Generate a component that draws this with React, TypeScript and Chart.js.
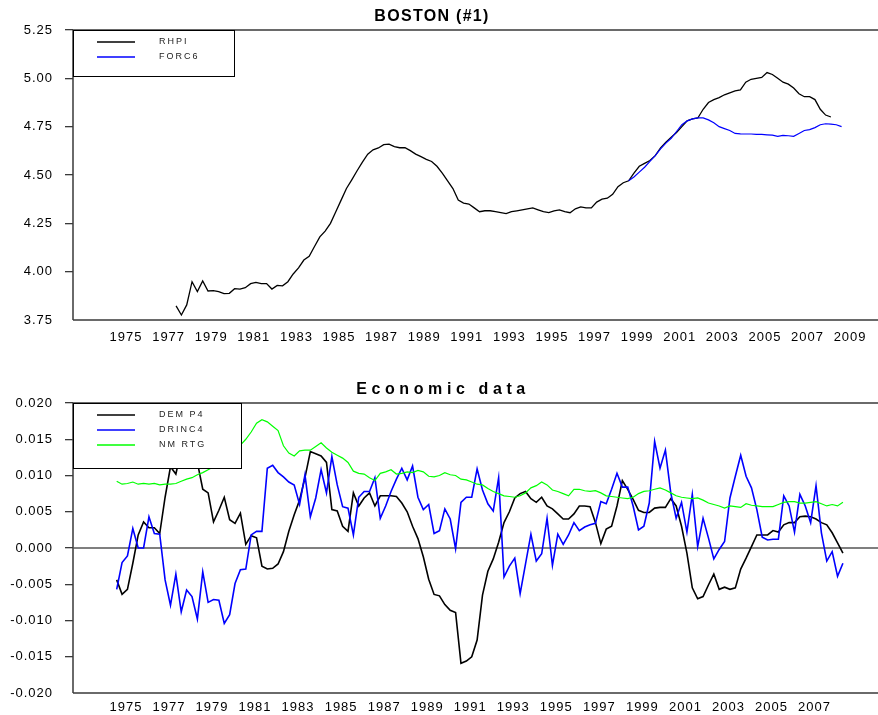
import React, { useEffect, useRef } from "react";
import { Chart, registerables } from "chart.js";

Chart.register(...registerables);

// ---------- DATA ----------
const TOP_YEARS = [1975, 1977, 1979, 1981, 1983, 1985, 1987, 1989, 1991, 1993, 1995, 1997, 1999, 2001, 2003, 2005, 2007, 2009];
const BOTTOM_YEARS = [1975, 1977, 1979, 1981, 1983, 1985, 1987, 1989, 1991, 1993, 1995, 1997, 1999, 2001, 2003, 2005, 2007];
const TOP_Y_TICKS = [3.75, 4.0, 4.25, 4.5, 4.75, 5.0, 5.25];
const BOTTOM_Y_TICKS = [-0.02, -0.015, -0.01, -0.005, 0, 0.005, 0.01, 0.015, 0.02];

const RHPI_START = "1977Q2";
const RHPI = [
  3.823, 3.776, 3.828, 3.948, 3.897, 3.952, 3.900, 3.902, 3.897, 3.886,
  3.888, 3.912, 3.910, 3.917, 3.938, 3.945, 3.938, 3.938, 3.910, 3.929,
  3.927, 3.948, 3.988, 4.020, 4.060, 4.080, 4.130, 4.180, 4.210, 4.250,
  4.310, 4.370, 4.430, 4.475, 4.522, 4.567, 4.608, 4.630, 4.640, 4.657,
  4.660, 4.647, 4.641, 4.641, 4.626, 4.608, 4.595, 4.581,
  4.570, 4.545, 4.510, 4.470, 4.430, 4.370, 4.355, 4.350, 4.330, 4.310,
  4.315, 4.315, 4.310, 4.305, 4.300, 4.310, 4.315, 4.320, 4.325, 4.330,
  4.320, 4.310, 4.305, 4.315, 4.320, 4.310, 4.305, 4.325, 4.335, 4.330,
  4.330, 4.360, 4.375, 4.380, 4.400, 4.440, 4.460, 4.470, 4.510, 4.545,
  4.560, 4.575, 4.600, 4.640, 4.670, 4.695, 4.720, 4.750, 4.780, 4.790,
  4.795, 4.840, 4.875, 4.890, 4.900, 4.915, 4.925, 4.935, 4.940, 4.980,
  4.995, 5.000, 5.005, 5.030, 5.020, 5.000, 4.980, 4.970, 4.950, 4.920,
  4.905, 4.905, 4.890, 4.840, 4.810, 4.800,
];

const FORC6_START = "1998Q3";
const FORC6 = [
  4.470, 4.490, 4.515, 4.540, 4.570, 4.600, 4.635, 4.665, 4.690, 4.725,
  4.760, 4.780, 4.790, 4.795, 4.795, 4.785, 4.770, 4.750, 4.740, 4.730,
  4.715, 4.713, 4.712, 4.712, 4.710, 4.710, 4.708, 4.706, 4.700, 4.705,
  4.703, 4.700, 4.715, 4.730, 4.735, 4.745, 4.760, 4.765, 4.763, 4.760,
  4.750,
];

const ECON_START = "1974Q3";
const DEMP4 = [
  -0.0044, -0.0064, -0.0057, -0.0021, 0.0018, 0.0036, 0.0028, 0.0028, 0.0020, 0.0070,
  0.0112, 0.0102, 0.0135, 0.0145, 0.0140, 0.0118, 0.0081, 0.0076, 0.0036, 0.0052,
  0.0070, 0.0039, 0.0034, 0.0048, 0.0005, 0.0017, 0.0014, -0.0025, -0.0029, -0.0028,
  -0.0022, -0.0005, 0.0023, 0.0046, 0.0066, 0.0097, 0.0133, 0.0130, 0.0127, 0.0118,
  0.0053, 0.0051, 0.0030, 0.0023, 0.0076, 0.0058, 0.0069, 0.0076, 0.0058, 0.0072,
  0.0072, 0.0072, 0.0071, 0.0062, 0.0050, 0.0030, 0.0013, -0.0012, -0.0043, -0.0064,
  -0.0066, -0.0078, -0.0086, -0.0089, -0.0159, -0.0156, -0.0150, -0.0127, -0.0065, -0.0032,
  -0.0015, 0.0008, 0.0035, 0.0050, 0.0069, 0.0075, 0.0078, 0.0068, 0.0063, 0.0070,
  0.0058, 0.0054, 0.0047, 0.0040, 0.0040, 0.0047, 0.0058, 0.0058, 0.0057, 0.0035,
  0.0006, 0.0026, 0.0030, 0.0058, 0.0093, 0.0081, 0.0067, 0.0052, 0.0049, 0.0049,
  0.0055, 0.0056, 0.0056, 0.0068, 0.0058, 0.0030, -0.0007, -0.0055, -0.0070, -0.0067,
  -0.0051, -0.0036, -0.0057, -0.0054, -0.0057, -0.0055, -0.0029, -0.0014, 0.0002, 0.0018,
  0.0018, 0.0018, 0.0024, 0.0022, 0.0032, 0.0035, 0.0035, 0.0043, 0.0044, 0.0043,
  0.0040, 0.0035, 0.0032, 0.0021, 0.0007, -0.0007,
];

const DRINC4 = [
  -0.0057, -0.0020, -0.0011, 0.0027, 0.0000, 0.0000, 0.0043, 0.0020, 0.0019, -0.0044,
  -0.0079, -0.0036, -0.0088, -0.0058, -0.0067, -0.0098, -0.0033, -0.0075, -0.0071, -0.0072,
  -0.0104, -0.0092, -0.0049, -0.0030, -0.0029, 0.0018, 0.0023, 0.0023, 0.0110, 0.0114,
  0.0104, 0.0098, 0.0091, 0.0087, 0.0060, 0.0101, 0.0043, 0.0069, 0.0108, 0.0076,
  0.0126, 0.0087, 0.0057, 0.0055, 0.0018, 0.0070, 0.0078, 0.0078, 0.0097, 0.0041,
  0.0058, 0.0078, 0.0095, 0.0110, 0.0094, 0.0113, 0.0070, 0.0053, 0.0060, 0.0020,
  0.0024, 0.0054, 0.0040, -0.0001, 0.0063, 0.0070, 0.0070, 0.0109, 0.0080, 0.0061,
  0.0051, 0.0097, -0.0040, -0.0025, -0.0014, -0.0063, -0.0022, 0.0019, -0.0018, -0.0008,
  0.0041, -0.0024, 0.0019, 0.0005, 0.0018, 0.0035, 0.0024, 0.0029, 0.0032, 0.0034,
  0.0064, 0.0061, 0.0081, 0.0103, 0.0084, 0.0084, 0.0058, 0.0025, 0.0030, 0.0062,
  0.0147, 0.0110, 0.0135, 0.0076, 0.0041, 0.0063, 0.0022, 0.0074, 0.0002, 0.0041,
  0.0014, -0.0015, -0.0002, 0.0009, 0.0069, 0.0099, 0.0128, 0.0099, 0.0083, 0.0053,
  0.0015, 0.0011, 0.0012, 0.0012, 0.0072, 0.0058, 0.0022, 0.0074, 0.0058, 0.0035,
  0.0086, 0.0021, -0.0018, -0.0005, -0.0039, -0.0021,
];

const NMRTG = [
  0.0092, 0.0088, 0.0089, 0.0091, 0.0088, 0.0089, 0.0088, 0.0089, 0.0087, 0.0088,
  0.0088, 0.0089, 0.0092, 0.0095, 0.0097, 0.0101, 0.0104, 0.0108, 0.0112, 0.0116,
  0.0122, 0.0128, 0.0135, 0.0142, 0.0150, 0.0160, 0.0172, 0.0177, 0.0174, 0.0168,
  0.0162, 0.0141, 0.0131, 0.0127, 0.0134, 0.0135, 0.0135, 0.0140, 0.0145, 0.0138,
  0.0132, 0.0128, 0.0124, 0.0118, 0.0106, 0.0103, 0.0102, 0.0097, 0.0093, 0.0103,
  0.0105, 0.0108, 0.0102, 0.0103, 0.0105, 0.0104, 0.0107, 0.0105, 0.0099, 0.0098,
  0.0100, 0.0104, 0.0101, 0.0100, 0.0095, 0.0094, 0.0091, 0.0088, 0.0087, 0.0082,
  0.0078, 0.0075, 0.0072, 0.0071, 0.0070, 0.0072, 0.0076, 0.0083, 0.0086, 0.0091,
  0.0087, 0.0080, 0.0078, 0.0075, 0.0072, 0.0081, 0.0081, 0.0079, 0.0078, 0.0079,
  0.0076, 0.0072, 0.0071, 0.0070, 0.0069, 0.0068, 0.0070, 0.0075, 0.0078, 0.0079,
  0.0081, 0.0083, 0.0080, 0.0076, 0.0072, 0.0070, 0.0069, 0.0068, 0.0069, 0.0066,
  0.0062, 0.0060, 0.0058, 0.0055, 0.0058, 0.0057, 0.0056, 0.0061, 0.0059, 0.0058,
  0.0057, 0.0057, 0.0057, 0.0060, 0.0063, 0.0064, 0.0064, 0.0062, 0.0062, 0.0063,
  0.0064, 0.0061, 0.0058, 0.0060, 0.0058, 0.0063,
];

// ---------- HELPERS ----------
const FONT = '"Liberation Sans", Arial, Helvetica, sans-serif';

function quarterStart(q: string): number {
  const [y, n] = q.split("Q");
  return Number(y) + (Number(n) - 1) / 4;
}
function toPoints(start: string, values: number[]) {
  const t0 = quarterStart(start);
  return values.map((v, i) => ({ x: t0 + i / 4, y: v }));
}

const framePlugin = {
  id: "frame",
  beforeDraw(chart: any) {
    chart.ctx.letterSpacing = "1px";
  },
  beforeDatasetsDraw(chart: any, _a: any, opts: any) {
    const { ctx, chartArea } = chart;
    const { left, right, top, bottom } = chartArea;
    ctx.save();
    ctx.strokeStyle = "#3a3a3a";
    ctx.lineWidth = 1.5;
    ctx.beginPath();
    ctx.moveTo(left, top);
    ctx.lineTo(right, top);
    ctx.moveTo(left, bottom);
    ctx.lineTo(right, bottom);
    ctx.moveTo(left, top);
    ctx.lineTo(left, bottom);
    ctx.stroke();
    if (opts && opts.zeroLine) {
      const y0 = chart.scales.y.getPixelForValue(0);
      ctx.strokeStyle = "#555";
      ctx.lineWidth = 1.4;
      ctx.beginPath();
      ctx.moveTo(left, y0);
      ctx.lineTo(right, y0);
      ctx.stroke();
    }
    ctx.restore();
  },
  afterDraw(chart: any, _a: any, opts: any) {
    const { ctx } = chart;
    ctx.save();
    ctx.letterSpacing = opts.titleSpacing + "px";
    ctx.font = `bold ${opts.titleSize}px ${FONT}`;
    ctx.fillStyle = "#000";
    ctx.textAlign = "center";
    ctx.textBaseline = "middle";
    ctx.fillText(opts.title, opts.titleX, opts.titleY);
    ctx.restore();
    ctx.letterSpacing = "0px";
  },
};

const boxLegendPlugin = {
  id: "boxLegend",
  afterDatasetsDraw(chart: any, _a: any, opts: any) {
    const { ctx, chartArea } = chart;
    const x0 = chartArea.left;
    const y0 = chartArea.top;
    ctx.save();
    ctx.fillStyle = "#fff";
    ctx.fillRect(x0, y0, opts.width, opts.height);
    ctx.strokeStyle = "#000";
    ctx.lineWidth = 1;
    ctx.strokeRect(x0 + 0.5, y0 + 0.5, opts.width, opts.height);
    ctx.font = `9px ${FONT}`;
    ctx.letterSpacing = "2px";
    ctx.textBaseline = "middle";
    ctx.textAlign = "left";
    opts.order.forEach((label: string, k: number) => {
      const ds = chart.data.datasets.find((d: any) => d.label === label);
      const y = y0 + 12 + k * 15;
      ctx.strokeStyle = ds.borderColor;
      ctx.lineWidth = 1.3;
      ctx.beginPath();
      ctx.moveTo(x0 + 24, y);
      ctx.lineTo(x0 + 62, y);
      ctx.stroke();
      ctx.fillStyle = "#222";
      ctx.fillText(opts.display[k], x0 + 86, y);
    });
    ctx.restore();
  },
};

function makeOptions(cfg: any) {
  const tickFont = { family: FONT, size: 13 };
  return {
    responsive: false,
    animation: false,
    devicePixelRatio: 1,
    layout: { padding: { top: cfg.padTop, left: 0, right: 0, bottom: 0 } },
    plugins: {
      legend: { display: false },
      title: { display: false },
      tooltip: { enabled: false },
      frame: cfg.frame,
      boxLegend: cfg.legend,
    },
    scales: {
      x: {
        type: "linear",
        min: cfg.xMin,
        max: cfg.xMax,
        afterBuildTicks: (s: any) => {
          s.ticks = cfg.years.map((y: number) => ({ value: y + cfg.labelOffset }));
        },
        afterFit: (s: any) => {
          s.height = cfg.xHeight;
        },
        ticks: {
          autoSkip: false,
          maxRotation: 0,
          minRotation: 0,
          padding: cfg.xPad,
          color: "#000",
          font: tickFont,
          callback: (_v: any, i: number) => String(cfg.years[i]),
        },
        grid: { display: false, drawTicks: false },
        border: { display: false },
      },
      y: {
        min: cfg.yTicks[0],
        max: cfg.yTicks[cfg.yTicks.length - 1],
        afterBuildTicks: (s: any) => {
          s.ticks = cfg.yTicks.map((v: number) => ({ value: v }));
        },
        afterFit: (s: any) => {
          s.width = 73;
        },
        ticks: {
          padding: 12,
          color: "#000",
          font: tickFont,
          callback: (_v: any, i: number) => cfg.yTicks[i].toFixed(cfg.decimals),
        },
        grid: {
          drawOnChartArea: false,
          drawTicks: true,
          tickLength: 8,
          lineWidth: 1.3,
          color: (c: any) =>
            c.tick && c.tick.value === cfg.yTicks[0] ? "rgba(0,0,0,0)" : "#3a3a3a",
        },
        border: { display: false },
      },
    },
  };
}

export default function App() {
  const topRef = useRef<HTMLCanvasElement | null>(null);
  const botRef = useRef<HTMLCanvasElement | null>(null);

  useEffect(() => {
    const top = new Chart(topRef.current as HTMLCanvasElement, {
      type: "line",
      data: {
        datasets: [
          {
            label: "FORC6",
            data: toPoints(FORC6_START, FORC6),
            borderColor: "#0000ff",
            borderWidth: 1.2,
            pointRadius: 0,
            tension: 0,
          },
          {
            label: "RHPI",
            data: toPoints(RHPI_START, RHPI),
            borderColor: "#000000",
            borderWidth: 1.3,
            pointRadius: 0,
            tension: 0,
          },
        ],
      },
      options: makeOptions({
        padTop: 30,
        xMin: 1972.41,
        xMax: 2010.21,
        years: TOP_YEARS,
        labelOffset: -0.1,
        xHeight: 37,
        xPad: 10,
        yTicks: TOP_Y_TICKS,
        decimals: 2,
        frame: { zeroLine: false, title: "BOSTON (#1)", titleSize: 16, titleSpacing: 1.3, titleX: 432, titleY: 17 },
        legend: { width: 161, height: 46, order: ["RHPI", "FORC6"], display: ["RHPI", "FORC6"] },
      }) as any,
      plugins: [framePlugin, boxLegendPlugin],
    });

    const bot = new Chart(botRef.current as HTMLCanvasElement, {
      type: "line",
      data: {
        datasets: [
          {
            label: "NMRTG",
            data: toPoints(ECON_START, NMRTG),
            borderColor: "#00ff00",
            borderWidth: 1.2,
            pointRadius: 0,
            tension: 0,
          },
          {
            label: "DRINC4",
            data: toPoints(ECON_START, DRINC4),
            borderColor: "#0000ff",
            borderWidth: 1.6,
            pointRadius: 0,
            tension: 0,
          },
          {
            label: "DEMP4",
            data: toPoints(ECON_START, DEMP4),
            borderColor: "#000000",
            borderWidth: 1.6,
            pointRadius: 0,
            tension: 0,
          },
        ],
      },
      options: makeOptions({
        padTop: 46,
        xMin: 1972.47,
        xMax: 2009.88,
        years: BOTTOM_YEARS,
        labelOffset: -0.07,
        xHeight: 22,
        xPad: 7,
        yTicks: BOTTOM_Y_TICKS,
        decimals: 3,
        frame: { zeroLine: true, title: "Economic data", titleSize: 16, titleSpacing: 4.6, titleX: 443, titleY: 33 },
        legend: {
          width: 168,
          height: 65,
          order: ["DEMP4", "DRINC4", "NMRTG"],
          display: ["DEM P4", "DRINC4", "NM RTG"],
        },
      }) as any,
      plugins: [framePlugin, boxLegendPlugin],
    });

    return () => {
      top.destroy();
      bot.destroy();
    };
  }, []);

  return (
    <div style={{ position: "absolute", left: 0, top: 0, width: 878, height: 715, background: "#fff", overflow: "hidden" }}>
      <canvas ref={topRef} width={878} height={357} style={{ position: "absolute", left: 0, top: 0, display: "block" }} />
      <canvas ref={botRef} width={878} height={358} style={{ position: "absolute", left: 0, top: 357, display: "block" }} />
    </div>
  );
}
